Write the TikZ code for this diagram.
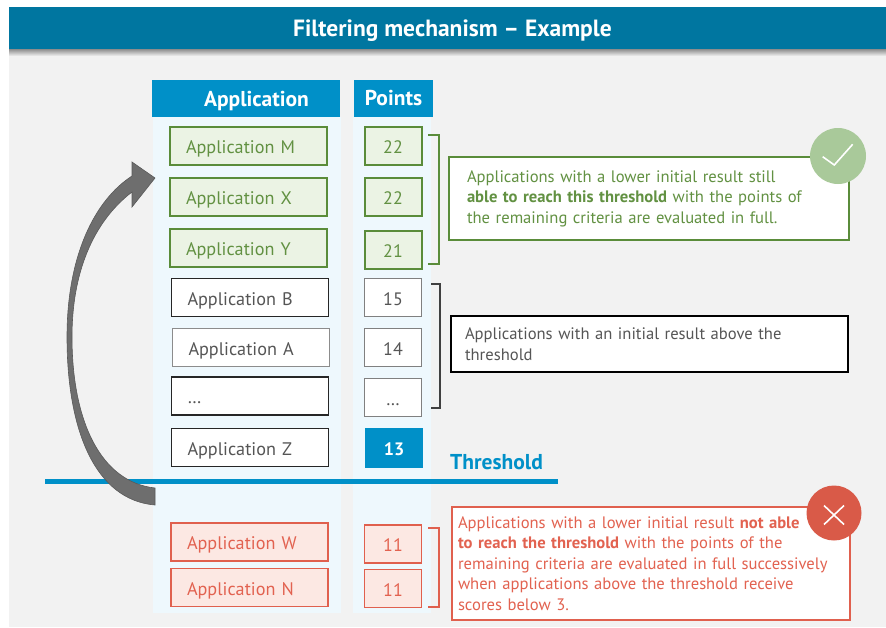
\documentclass[tikz,border=0pt]{standalone}
\usepackage{fontspec}
\setmainfont{PT Sans}
\usetikzlibrary{calc}
\definecolor{titleblue}{RGB}{0,118,160}
\definecolor{headblue}{RGB}{0,144,200}
\definecolor{colbg}{RGB}{238,248,253}
\definecolor{bggray}{RGB}{242,242,242}
\definecolor{gline}{RGB}{90,140,58}
\definecolor{gtext}{RGB}{98,145,66}
\definecolor{gfill}{RGB}{235,243,228}
\definecolor{gcirc}{RGB}{169,201,154}
\definecolor{rline}{RGB}{224,96,78}
\definecolor{rtext}{RGB}{226,98,80}
\definecolor{rfill}{RGB}{252,232,227}
\definecolor{rcirc}{RGB}{217,90,72}
\definecolor{txtgray}{RGB}{85,85,85}
\definecolor{arrgray}{RGB}{110,110,110}
\tikzset{
  every node/.style={font=\fontsize{16.6}{20.6}\selectfont},
  appbox/.style={draw=black!85, line width=1.2pt, fill=white, minimum height=38pt,
    text width=125pt, inner xsep=16pt, inner ysep=0pt, align=left, text=txtgray,
    text height=19pt, text depth=4pt, font=\fontsize{18.2}{20}\selectfont},
  ptbox/.style={draw=black!50, line width=1.2pt, fill=white, minimum height=38pt,
    minimum width=57pt, inner sep=0pt, text=txtgray, text height=19pt, text depth=4pt,
    font=\fontsize{18}{20}\selectfont},
  green/.style={draw=gline, fill=gfill, line width=2pt, text=gtext},
  red/.style={draw=rline, fill=rfill, line width=1.6pt, text=rtext},
  header/.style={fill=headblue, inner sep=0pt, minimum height=37pt},
  headtext/.style={text=white, inner sep=0pt, font=\fontsize{21.5}{22}\selectfont\bfseries},
  infobox/.style={fill=white, line width=2pt, inner ysep=0pt, align=left},
  bracket/.style={line width=1.6pt},
}
\begin{document}
\begin{tikzpicture}[x=1pt,y=-1pt]
\useasboundingbox (0,0) rectangle (886,627);
% backgrounds
\fill[bggray] (9,49) rectangle (886,627);
\shade[top color=black!45, bottom color=bggray] (9,49) rectangle (886,56);
\fill[titleblue] (9,7) rectangle (886,49);
\node[text=white, font=\fontsize{23.5}{24}\selectfont\bfseries] (title) at (452.5,30.5) {Filtering mechanism – Example};
% columns
\fill[colbg] (153,117) rectangle (341,613);
\fill[colbg] (353,117) rectangle (431,613);
\node[header, minimum width=188pt] (happ) at (246,98.5) {};
\node[headtext] (happt) at (256.5,101) {Application};
\node[header, minimum width=79pt] (hpts) at (393.5,98.5) {};
\node[headtext] (hptst) at (393.5,98.5) {Points};
% application boxes
\node[appbox, green] (aM) at (248.5,146) {Application M};
\node[appbox, green] (aX) at (248.5,197) {Application X};
\node[appbox, green] (aY) at (248.5,248) {Application Y};
\node[appbox] (aB) at (250,297.5) {Application B};
\node[appbox, draw=black!45] (aA) at (251,347.5) {Application A};
\node[appbox] (aD) at (250,396) {\dots};
\node[appbox] (aZ) at (250,447.5) {Application Z};
\node[appbox, red] (aW) at (249.5,542) {Application W};
\node[appbox, red] (aN) at (249.5,587.5) {Application N};
% points boxes
\node[ptbox, green] (pM) at (393,146) {22};
\node[ptbox, green] (pX) at (393,197) {22};
\node[ptbox, green] (pY) at (393,249.5) {21};
\node[ptbox] (pB) at (393,297.5) {15};
\node[ptbox] (pA) at (393,347.5) {14};
\node[ptbox] (pD) at (393,397.5) {\dots};
\node[ptbox, draw=none, fill=headblue, text=white, minimum height=40pt, minimum width=58pt,
  font=\fontsize{18}{20}\selectfont\bfseries] (pZ) at (394,448) {13};
\node[ptbox, red] (pW) at (393,544) {11};
\node[ptbox, red] (pN) at (393,588.5) {11};
% brackets
\draw[bracket, gline] (428,135) -- (439,135) -- (439,264) -- (428,264);
\draw[bracket, black!75, line width=1.2pt] (431,284) -- (440,284) -- (440,408) -- (431,408);
\draw[bracket, rline] (428,528) -- (439,528) -- (439,607) -- (428,607);
% info boxes
\node[infobox, draw=gline, text=gtext, minimum width=400pt, minimum height=83pt,
  text width=364pt, inner xsep=18pt] (gbox) at (649,198.5)
  {Applications with a lower initial result still\\
   \textbf{able to reach this threshold} with the points of\\
   the remaining criteria are evaluated in full.};
\node[infobox, draw=black, line width=1.2pt, text=txtgray, minimum width=397pt, minimum height=56pt,
  text width=369pt, inner xsep=14pt] (bbox) at (649.5,344)
  {Applications with an initial result above the\\ threshold};
\node[infobox, draw=rline, text=rtext, minimum width=398pt, minimum height=113pt,
  text width=386pt, inner xsep=6pt] (rbox) at (651,563.5)
  {Applications with a lower initial result \textbf{not able}\\
   \textbf{to reach the threshold} with the points of the\\
   remaining criteria are evaluated in full successively\\
   when applications above the threshold receive\\
   scores below 3.};
% circles
\node[circle, fill=gcirc, minimum size=56pt, inner sep=0pt] (ok) at (838,156) {};
\draw[white, line width=1.6pt] ($(ok.center)+(-15.3,0.7)$) -- ($(ok.center)+(-3.7,9)$) -- ($(ok.center)+(14.7,-11.7)$);
\node[circle, fill=rcirc, minimum size=55pt, inner sep=0pt] (no) at (834,513) {};
\draw[white, line width=1.6pt] ($(no.center)+(-10,-7.5)$) -- ($(no.center)+(10,11.5)$)
  ($(no.center)+(10,-7.5)$) -- ($(no.center)+(-10,11.5)$);
% threshold
\coordinate (tl) at (45,481);
\coordinate (tr) at (558,481);
\draw[headblue, line width=5pt] (tl) -- (tr);
\node[text=headblue, font=\fontsize{21.5}{22}\selectfont\bfseries, anchor=west, inner sep=0pt] (thr) at (450,462) {Threshold};
% curved arrow
\fill[arrgray, draw=black!65, line width=0.6pt]
  (155,505) .. controls (95,500) and (67,430) .. (67,337)
  .. controls (67,255) and (95,200) .. (132,176)
  -- (132,162) -- (155,178) -- (132,207) -- (132,192)
  .. controls (98,218) and (72,265) .. (72,337)
  .. controls (72,420) and (100,482) .. (155,488) -- cycle;
\end{tikzpicture}
\end{document}
